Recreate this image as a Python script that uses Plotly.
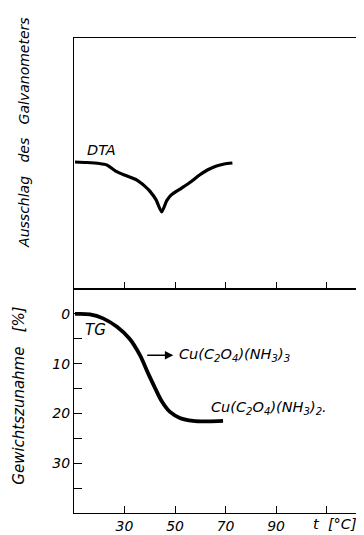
import plotly.graph_objects as go

# DTA curve (upper panel, arbitrary galvanometer deflection)
dta_t = [10.4, 15.0, 20.0, 23.0, 26.5, 30.0, 34.9, 38.0, 40.0, 42.5, 44.7, 46.7, 48.5, 52.6, 56.0, 59.7, 63.0, 66.4, 69.5, 72.7]
dta_y = [50.6, 50.4, 50.0, 49.4, 47.0, 45.4, 43.4, 41.0, 39.0, 35.5, 30.7, 35.2, 37.5, 40.2, 42.5, 45.4, 47.5, 49.0, 49.8, 50.2]

# TG curve (lower panel, weight change in %)
tg_t = [10.4, 16.3, 21.5, 27.0, 32.0, 36.0, 39.3, 42.1, 44.8, 48.0, 51.9, 57.1, 63.0, 69.0]
tg_y = [0.0, 0.1, 0.9, 2.6, 5.0, 8.2, 11.9, 14.9, 17.6, 19.7, 20.9, 21.5, 21.6, 21.5]

x_ticks = [30, 50, 70, 90, 110]
x_ticktext = ["30", "50", "70", "90", ""]
y_ticks = [0, 5, 10, 15, 20, 25, 30, 35]
y_ticktext = ["0", "", "10", "", "20", "", "30", ""]

FONT = "DejaVu Sans"


def fnt(size):
    return dict(family=FONT, size=size, color="black", style="italic")


fig = go.Figure()
fig.add_trace(go.Scatter(x=dta_t, y=dta_y, mode="lines", xaxis="x2", yaxis="y2",
                         line=dict(color="black", width=3.2, shape="spline", smoothing=0.6),
                         showlegend=False, hoverinfo="skip"))
fig.add_trace(go.Scatter(x=tg_t, y=tg_y, mode="lines", xaxis="x", yaxis="y",
                         line=dict(color="black", width=3.8, shape="spline", smoothing=1.0),
                         showlegend=False, hoverinfo="skip"))

axis_common = dict(showline=True, linecolor="black", linewidth=1.2, mirror=True,
                   showgrid=False, zeroline=False, tickcolor="black", tickwidth=1.2)

fig.update_layout(
    width=356, height=527,
    margin=dict(l=66, r=2, t=30, b=22, autoexpand=False),
    paper_bgcolor="white", plot_bgcolor="white",
    font=fnt(14),
    xaxis=dict(domain=[0, 1], range=[10, 124], anchor="y", ticks="inside", ticklen=7,
               tickvals=x_ticks, ticktext=x_ticktext, tickfont=fnt(14),
               **axis_common),
    yaxis=dict(domain=[0, 0.4716], range=[40, -5], anchor="x", ticks="inside", ticklen=8,
               tickvals=y_ticks, ticktext=y_ticktext, tickfont=fnt(14),
               **axis_common),
    xaxis2=dict(domain=[0, 1], range=[10, 124], anchor="y2", ticks="inside", ticklen=7,
                tickvals=x_ticks, showticklabels=False, **axis_common),
    yaxis2=dict(domain=[0.4716, 1], range=[0, 100], anchor="x2", ticks="",
                showticklabels=False, **axis_common),
)

nb3 = "\u00a0\u00a0\u00a0"
ann = [
    dict(text="DTA", x=21, y=55.4, xref="x2", yref="y2", showarrow=False, font=fnt(14.5)),
    dict(text="TG", x=18.7, y=3.3, xref="x", yref="y", showarrow=False, font=fnt(15)),
    dict(text="Cu(C<sub>2</sub>O<sub>4</sub>)(NH<sub>3</sub>)<sub>3</sub>", x=50.6, y=8.3,
         xref="x", yref="y", xanchor="left", yanchor="middle", showarrow=False, font=fnt(14.5)),
    dict(text="Cu(C<sub>2</sub>O<sub>4</sub>)(NH<sub>3</sub>)<sub>2</sub>.", x=63.6, y=18.9,
         xref="x", yref="y", xanchor="left", yanchor="middle", showarrow=False, font=fnt(14.5)),
    dict(text="", x=49.3, y=8.3, ax=38.4, ay=8.3, xref="x", yref="y", axref="x", ayref="y",
         showarrow=True, arrowhead=2, arrowsize=1.2, arrowwidth=1.4, arrowcolor="black"),
    dict(text="t\u00a0\u00a0[°C]", x=103.8, y=-0.003, xref="x", yref="paper",
         xanchor="left", yanchor="top", showarrow=False, font=fnt(14.5)),
    dict(text="Ausschlag" + nb3 + "des" + nb3 + "Galvanometers", x=-0.174, y=0.80,
         xref="paper", yref="paper", xanchor="center", yanchor="middle",
         textangle=-90, showarrow=False, font=fnt(14)),
    dict(text="Gewichtszunahme" + nb3 + "[%]", x=-0.191, y=0.249,
         xref="paper", yref="paper", xanchor="center", yanchor="middle",
         textangle=-90, showarrow=False, font=fnt(15)),
]
fig.update_layout(annotations=ann)

fig.write_html("out.html")
